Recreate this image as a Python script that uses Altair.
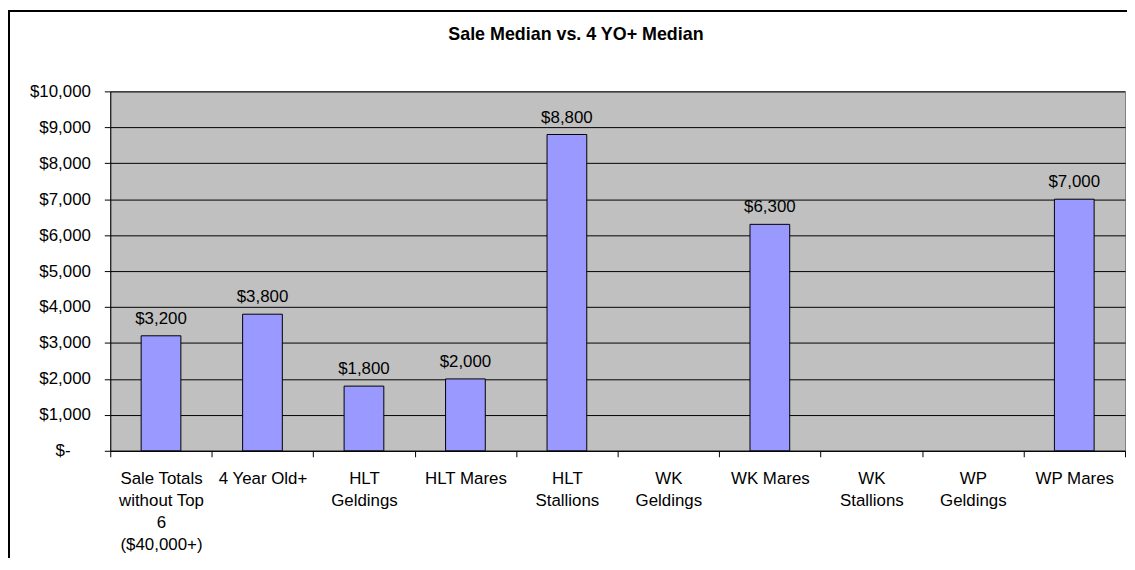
import altair as alt
import pandas as pd

categories = [
    "Sale Totals\nwithout Top\n6\n($40,000+)",
    "4 Year Old+",
    "HLT\nGeldings",
    "HLT Mares",
    "HLT\nStallions",
    "WK\nGeldings",
    "WK Mares",
    "WK\nStallions",
    "WP\nGeldings",
    "WP Mares",
]
medians = [3200, 3800, 1800, 2000, 8800, None, 6300, None, None, 7000]
y_ticks = [0, 1000, 2000, 3000, 4000, 5000, 6000, 7000, 8000, 9000, 10000]
zero_label = ["$-"]
title_text = ["Sale Median vs. 4 YO+ Median"]

df = pd.DataFrame({"cat": categories, "val": medians})
df["lab"] = df["val"].apply(lambda v: "" if pd.isna(v) else "${:,.0f}".format(v))

FONT = "Liberation Sans"

x_enc = alt.X(
    "cat:N",
    sort=categories,
    scale=alt.Scale(paddingInner=0, paddingOuter=0),
    axis=alt.Axis(
        title=None,
        labelAngle=0,
        labelExpr="split(datum.label, '\\n')",
        labelFont=FONT,
        labelFontSize=17,
        labelColor="#000000",
        labelLineHeight=22,
        labelBaseline="top",
        labelPadding=14,
        labelLimit=0,
        tickBand="extent",
        tickSize=6,
        tickColor="#000000",
        domainColor="#000000",
        grid=False,
    ),
)

y_enc = alt.Y(
    "val:Q",
    scale=alt.Scale(domain=[0, 10000], nice=False),
    axis=alt.Axis(
        title=None,
        values=y_ticks,
        tickCount=20,
        labelExpr="datum.value == 0 ? '' : '$' + format(datum.value, ',')",
        labelFont=FONT,
        labelFontSize=17,
        labelColor="#000000",
        labelPadding=14,
        labelOverlap=False,
        tickSize=6,
        tickColor="#000000",
        domainColor="#000000",
        grid=True,
        gridColor="#000000",
        gridWidth=1,
    ),
)

base = alt.Chart(df)

bars = base.mark_bar(size=40, color="#9999FF", stroke="#000000", strokeWidth=1).encode(
    x=x_enc, y=y_enc
)

labels = base.transform_filter("isValid(datum.val)").mark_text(
    baseline="bottom", dy=-8, font=FONT, fontSize=17, color="#000000"
).encode(x=x_enc, y=y_enc, text="lab:N")

zero_df = pd.DataFrame({"val": [y_ticks[0]], "t": zero_label})
zero_text = alt.Chart(zero_df).mark_text(
    font=FONT, fontSize=17, color="#000000", align="right", baseline="middle"
).encode(x=alt.value(-40), y=alt.Y("val:Q"), text="t:N")

title = alt.Chart(pd.DataFrame({"t": title_text})).mark_text(
    font=FONT, fontSize=18, fontWeight="bold", color="#000000", baseline="middle", align="center"
).encode(x=alt.value(469), y=alt.value(-57), text="t:N")

border_left = alt.Chart(df).mark_rule(color="#000000", strokeWidth=2).encode(
    x=alt.value(-102), y=alt.value(-82), y2=alt.value(480)
)
border_top = alt.Chart(df).mark_rule(color="#000000", strokeWidth=2).encode(
    x=alt.value(-103), x2=alt.value(1040), y=alt.value(-81)
)

chart = (
    alt.layer(bars, labels, zero_text, title, border_left, border_top)
    .properties(
        width=1022,
        height=362,
        autosize=alt.AutoSizeParams(type="none"),
        padding={"left": 103, "top": 82, "right": 2, "bottom": 106},
        background="#FFFFFF",
    )
    .configure_view(fill="#C0C0C0", stroke="#808080", strokeWidth=1)
)

chart.save("out.html", embed_options={"renderer": "svg", "actions": False})
